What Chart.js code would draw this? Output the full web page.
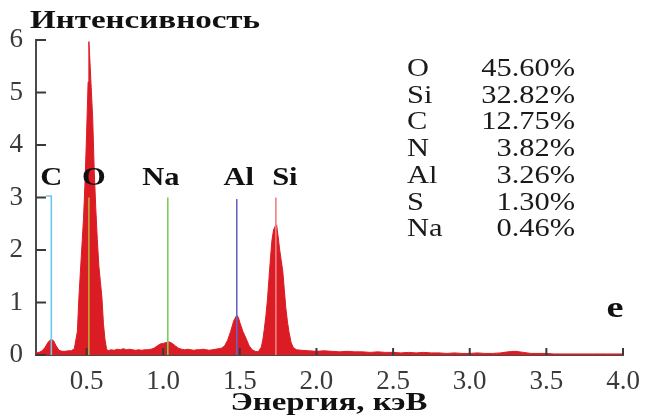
<!DOCTYPE html>
<html>
<head>
<meta charset="utf-8">
<script src="https://cdn.jsdelivr.net/npm/chart.js@4/dist/chart.umd.min.js"></script>
<style>
  body { margin: 0; background: #fff; }
  canvas { display: block; }
</style>
</head>
<body>
<canvas id="eds" width="660" height="419"></canvas>
<script>
// spectrum (keV / intensity)
const energy = [
  0.17, 0.19, 0.21, 0.23, 0.25, 0.27, 0.285, 0.30, 0.32, 0.34, 0.36, 0.38, 0.40, 0.42,
  0.44, 0.45, 0.46, 0.47, 0.48, 0.49, 0.50, 0.51, 0.515, 0.52, 0.53, 0.54, 0.55, 0.56,
  0.57, 0.58, 0.59, 0.60, 0.61, 0.62, 0.63, 0.64, 0.66, 0.68, 0.70, 0.72, 0.74, 0.76,
  0.78, 0.80, 0.82, 0.84, 0.86, 0.88, 0.90, 0.92, 0.94, 0.96, 0.98, 1.00, 1.02, 1.04,
  1.06, 1.08, 1.10, 1.12, 1.14, 1.16, 1.18, 1.20, 1.22, 1.24, 1.26, 1.28, 1.30, 1.32,
  1.34, 1.36, 1.38, 1.40, 1.42, 1.44, 1.46, 1.48, 1.49, 1.50, 1.52, 1.54, 1.56, 1.58,
  1.60, 1.62, 1.64, 1.65, 1.66, 1.67, 1.68, 1.69, 1.70, 1.71, 1.72, 1.73, 1.74, 1.75,
  1.76, 1.77, 1.78, 1.79, 1.80, 1.81, 1.82, 1.835, 1.85, 1.87, 1.90, 1.95, 2.00, 2.05,
  2.10, 2.15, 2.20, 2.25, 2.30, 2.35, 2.40, 2.45, 2.50, 2.55, 2.60, 2.65, 2.70, 2.75,
  2.80, 2.85, 2.90, 2.95, 3.00, 3.05, 3.10, 3.15, 3.20, 3.25, 3.30, 3.35, 3.40, 3.45,
  3.50, 3.55, 3.60, 3.70, 3.80, 3.90, 4.00
];
const counts = [
  0.04, 0.05, 0.08, 0.15, 0.25, 0.30, 0.27, 0.18, 0.09, 0.07, 0.07, 0.08, 0.08, 0.12,
  0.45, 1.10, 1.60, 2.10, 2.60, 3.30, 4.20, 5.20, 5.97, 5.70, 5.10, 4.50, 3.50, 2.80,
  2.20, 1.70, 1.40, 1.10, 0.60, 0.30, 0.12, 0.08, 0.10, 0.09, 0.11, 0.10, 0.12, 0.10,
  0.11, 0.10, 0.09, 0.10, 0.09, 0.10, 0.10, 0.11, 0.13, 0.17, 0.21, 0.22, 0.24, 0.25,
  0.22, 0.17, 0.13, 0.11, 0.10, 0.11, 0.10, 0.09, 0.10, 0.10, 0.11, 0.10, 0.09, 0.10,
  0.11, 0.12, 0.13, 0.17, 0.28, 0.45, 0.65, 0.76, 0.72, 0.62, 0.45, 0.32, 0.18, 0.10,
  0.07, 0.06, 0.15, 0.29, 0.50, 0.75, 1.05, 1.45, 1.85, 2.20, 2.38, 2.45, 2.48, 2.25,
  2.00, 1.80, 1.60, 1.25, 0.90, 0.65, 0.45, 0.23, 0.14, 0.10, 0.09, 0.08, 0.07, 0.08,
  0.07, 0.06, 0.07, 0.06, 0.06, 0.05, 0.06, 0.05, 0.05, 0.04, 0.05, 0.04, 0.05, 0.04,
  0.04, 0.03, 0.04, 0.03, 0.03, 0.04, 0.03, 0.03, 0.04, 0.06, 0.07, 0.05, 0.03, 0.03,
  0.03, 0.02, 0.02, 0.02, 0.02, 0.02, 0.02
];
const xTicks = [0.5, 1.0, 1.5, 2.0, 2.5, 3.0, 3.5, 4.0];
const yTicks = [0, 1, 2, 3, 4, 5, 6];

// element marker lines
const peakNames = ['C', 'O', 'Na', 'Al', 'Si'];
const peakEnergy = [0.27, 0.515, 1.03, 1.48, 1.735];
const peakTop = [3.03, 3.0, 3.0, 2.97, 3.0];

// composition table
const elements = ['O', 'Si', 'C', 'N', 'Al', 'S', 'Na'];
const percents = ['45.60%', '32.82%', '12.75%', '3.82%', '3.26%', '1.30%', '0.46%'];

const peakColors = ['#6cc8e8', '#b8aa3a', '#7ccc5c', '#6a62c4', '#f08080'];
const labelShift = [0, 5, -7, 2, 9];
const SERIF = '"Liberation Serif", "Times New Roman", serif';

function fitText(ctx, s, x, y, font, w, align) {
  ctx.font = font;
  const m = ctx.measureText(s).width;
  const sx = w ? w / m : 1;
  ctx.save();
  ctx.translate(x, y);
  ctx.scale(sx, 1);
  ctx.textAlign = align || 'left';
  ctx.textBaseline = 'alphabetic';
  ctx.fillText(s, 0, 0);
  ctx.restore();
}

const overlay = {
  id: 'overlay',
  afterDatasetsDraw(chart) {
    const { ctx, chartArea: a, scales: { x, y } } = chart;
    ctx.save();
    // inward tick marks
    ctx.strokeStyle = '#3a3a3a';
    ctx.lineWidth = 2;
    x.ticks.forEach(t => {
      const px = x.getPixelForValue(t.value);
      ctx.beginPath(); ctx.moveTo(px, a.bottom); ctx.lineTo(px, a.bottom - 7); ctx.stroke();
    });
    y.ticks.forEach(t => {
      const py = y.getPixelForValue(t.value);
      ctx.beginPath(); ctx.moveTo(a.left, py); ctx.lineTo(a.left + 10, py); ctx.stroke();
    });

    ctx.fillStyle = '#111';
    // element labels above the marker lines
    const bold = 'bold 25px ' + SERIF;
    peakNames.forEach((n, i) => {
      const px = x.getPixelForValue(peakEnergy[i]) + labelShift[i];
      const py = y.getPixelForValue(3.24);
      ctx.font = bold;
      fitText(ctx, n, px, py, bold, ctx.measureText(n).width * 1.22, 'center');
    });

    // titles
    fitText(ctx, 'Интенсивность', 30, 28, bold, 230, 'left');
    fitText(ctx, 'Энергия, кэВ', 329, 410, bold, 197, 'center');
    fitText(ctx, 'e', 615, 317, 'bold 30px ' + SERIF, 17, 'center');

    // composition table
    ctx.fillStyle = '#1a1a1a';
    const reg = '26px ' + SERIF;
    elements.forEach((el, i) => {
      const by = 76 + i * 26.7;
      ctx.font = reg;
      fitText(ctx, el, 407, by, reg, ctx.measureText(el).width * 1.17, 'left');
      ctx.font = reg;
      fitText(ctx, percents[i], 575, by, reg, ctx.measureText(percents[i]).width * 1.17, 'right');
    });
    ctx.restore();
  }
};

const markerSets = peakNames.map((n, i) => ({
  label: n,
  data: n === 'C'
    ? [{ x: peakEnergy[i], y: 0 }, { x: peakEnergy[i], y: peakTop[i] }, { x: peakEnergy[i] - 0.033, y: peakTop[i] }]
    : [{ x: peakEnergy[i], y: 0 }, { x: peakEnergy[i], y: peakTop[i] }],
  borderColor: peakColors[i],
  borderWidth: 1.6,
  pointRadius: 0,
  fill: false,
  order: 0
}));

new Chart(document.getElementById('eds'), {
  type: 'line',
  data: {
    datasets: [
      ...markerSets,
      {
        label: 'spectrum',
        data: energy.map((e, i) => ({ x: e, y: counts[i] })),
        borderColor: '#dc1c24',
        backgroundColor: '#dc1c24',
        borderWidth: 1,
        pointRadius: 0,
        tension: 0,
        fill: 'origin',
        order: 1
      }
    ]
  },
  options: {
    responsive: false,
    animation: false,
    layout: { padding: { top: 40, right: 37, bottom: 0, left: 0 } },
    plugins: { legend: { display: false }, tooltip: { enabled: false } },
    scales: {
      x: {
        type: 'linear',
        min: 0.17, max: 4.0,
        afterBuildTicks: s => { s.ticks = xTicks.map(v => ({ value: v })); },
        afterFit: s => { s.height = 64; },
        grid: { display: false, drawTicks: false },
        border: { display: true, color: '#4a4a4a', width: 2 },
        ticks: {
          padding: 11,
          color: '#3a3a3a',
          font: { family: SERIF, size: 27 },
          callback: v => Number(v).toFixed(1),
          maxRotation: 0
        }
      },
      y: {
        min: 0, max: 6,
        afterBuildTicks: s => { s.ticks = yTicks.map(v => ({ value: v })); },
        afterFit: s => { s.width = 36; },
        grid: { display: false, drawTicks: false },
        border: { display: true, color: '#4a4a4a', width: 2 },
        ticks: {
          padding: 13,
          color: '#3a3a3a',
          font: { family: SERIF, size: 27 }
        }
      }
    }
  },
  plugins: [overlay]
});
</script>
</body>
</html>
